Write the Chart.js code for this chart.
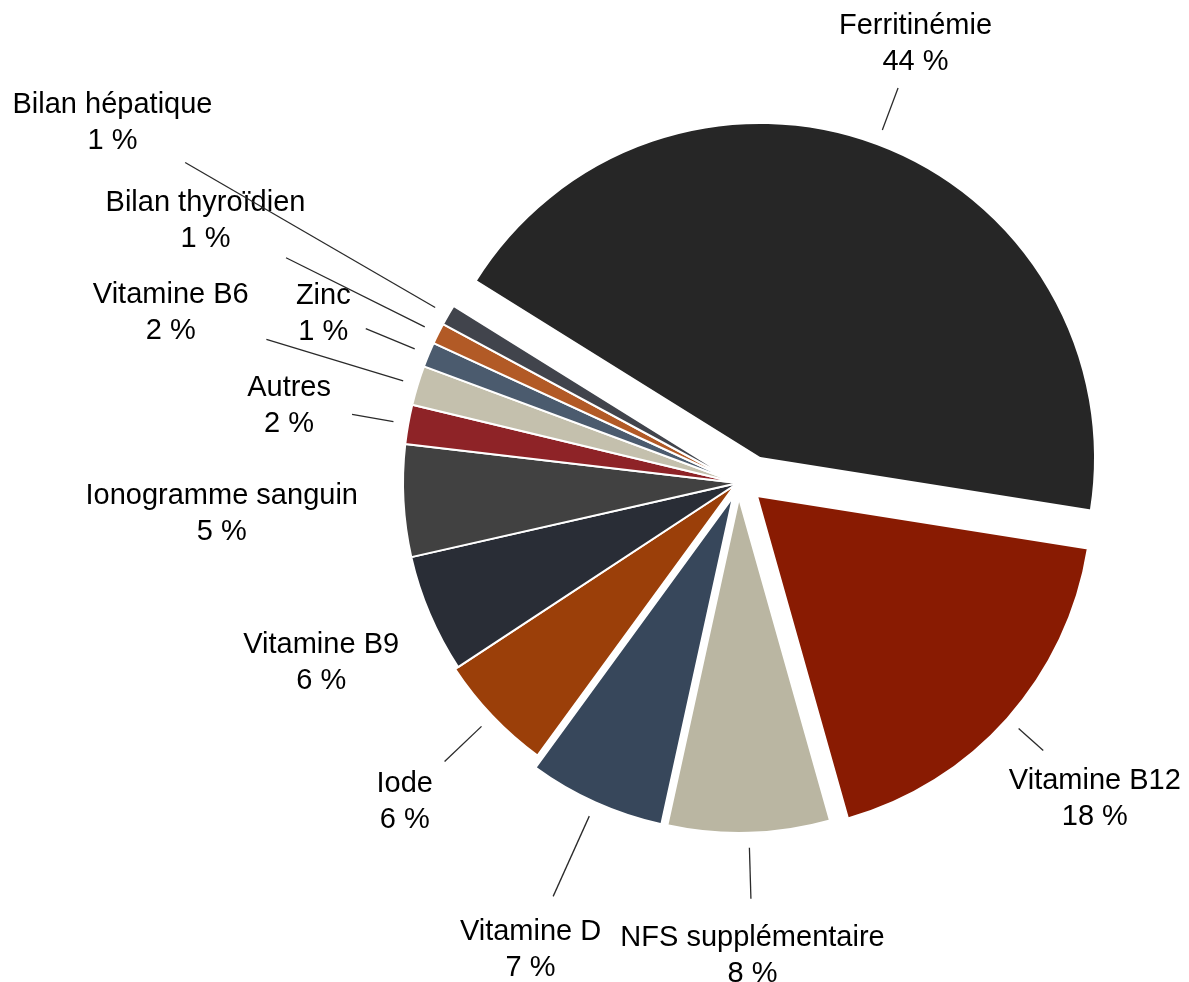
<!DOCTYPE html>
<html>
<head>
<meta charset="utf-8">
<script src="https://cdn.jsdelivr.net/npm/chart.js@4.4.0/dist/chart.umd.min.js"></script>
<style>
  html, body { margin: 0; padding: 0; background: #fff; }
  canvas { display: block; }
</style>
</head>
<body>
<canvas id="examens" width="1189" height="982"></canvas>
<script>
const categories = ['Ferritinémie', 'Vitamine B12', 'NFS supplémentaire', 'Vitamine D', 'Iode', 'Vitamine B9',
  'Ionogramme sanguin', 'Autres', 'Vitamine B6', 'Zinc', 'Bilan thyroïdien', 'Bilan hépatique'];
const shares = [43.6, 18.1, 7.8, 6.6, 5.7, 5.7, 5.4, 1.9, 1.9, 1.2, 1.0, 1.0];

const sliceColors = ['#262626', '#891b02', '#bab6a2', '#37475b', '#9b3f09', '#292d36',
  '#414141', '#8e2327', '#c4c0ad', '#4b5b6e', '#b25a26', '#41444c'];

// how far each slice is pulled out of the pie (px, x then y)
const explode = [[22, -25], [19, 13], [1, 15], [-5, 14], [-3, 2], [0, 0],
  [0, 0], [0, 0], [0, 0], [0, 0], [0, 0], [0, 0]];
// distance from the slice centre to the label block / to the end of the leader line (0 = no line)
const labelDist = [445, 452, 455, 493, 456, 453, 517, 456, 593, 449, 595, 723];
const lineEnd = [395, 383, 401, 438, 401, 0, 0, 392, 493, 403, 505, 639];

const explodePlugin = {
  id: 'explode',
  afterDatasetsUpdate(chart) {
    chart.getDatasetMeta(0).data.forEach((arc, i) => {
      arc.x += explode[i][0];
      arc.y += explode[i][1];
    });
  }
};

const labelPlugin = {
  id: 'outerLabels',
  afterDraw(chart) {
    const ctx = chart.ctx;
    const meta = chart.getDatasetMeta(0);
    const total = shares.reduce((a, b) => a + b, 0);
    ctx.save();
    ctx.font = '29px "Liberation Sans", Helvetica, Arial, sans-serif';
    ctx.textAlign = 'center';
    ctx.textBaseline = 'middle';
    meta.data.forEach((arc, i) => {
      const mid = (arc.startAngle + arc.endAngle) / 2;
      const cos = Math.cos(mid), sin = Math.sin(mid);
      const start = arc.outerRadius + 15;
      if (lineEnd[i] > 0) {
        ctx.beginPath();
        ctx.moveTo(arc.x + cos * start, arc.y + sin * start);
        ctx.lineTo(arc.x + cos * lineEnd[i], arc.y + sin * lineEnd[i]);
        ctx.strokeStyle = '#2a2a2a';
        ctx.lineWidth = 1.3;
        ctx.stroke();
      }
      const tx = arc.x + cos * labelDist[i];
      const ty = arc.y + sin * labelDist[i] + 3;
      ctx.fillStyle = '#000';
      ctx.fillText(categories[i], tx, ty - 18);
      ctx.fillText(Math.round(shares[i] / total * 100) + ' %', tx, ty + 18);
    });
    ctx.restore();
  }
};

new Chart(document.getElementById('examens').getContext('2d'), {
  type: 'pie',
  data: {
    labels: categories,
    datasets: [{
      data: shares,
      backgroundColor: sliceColors,
      borderColor: '#fff',
      borderWidth: 2,
      radius: 335
    }]
  },
  options: {
    responsive: false,
    animation: false,
    rotation: -58.1,
    layout: { padding: { left: 287, right: 0, top: 0, bottom: 16 } },
    plugins: {
      legend: { display: false },
      tooltip: { enabled: false }
    }
  },
  plugins: [explodePlugin, labelPlugin]
});
</script>
</body>
</html>
